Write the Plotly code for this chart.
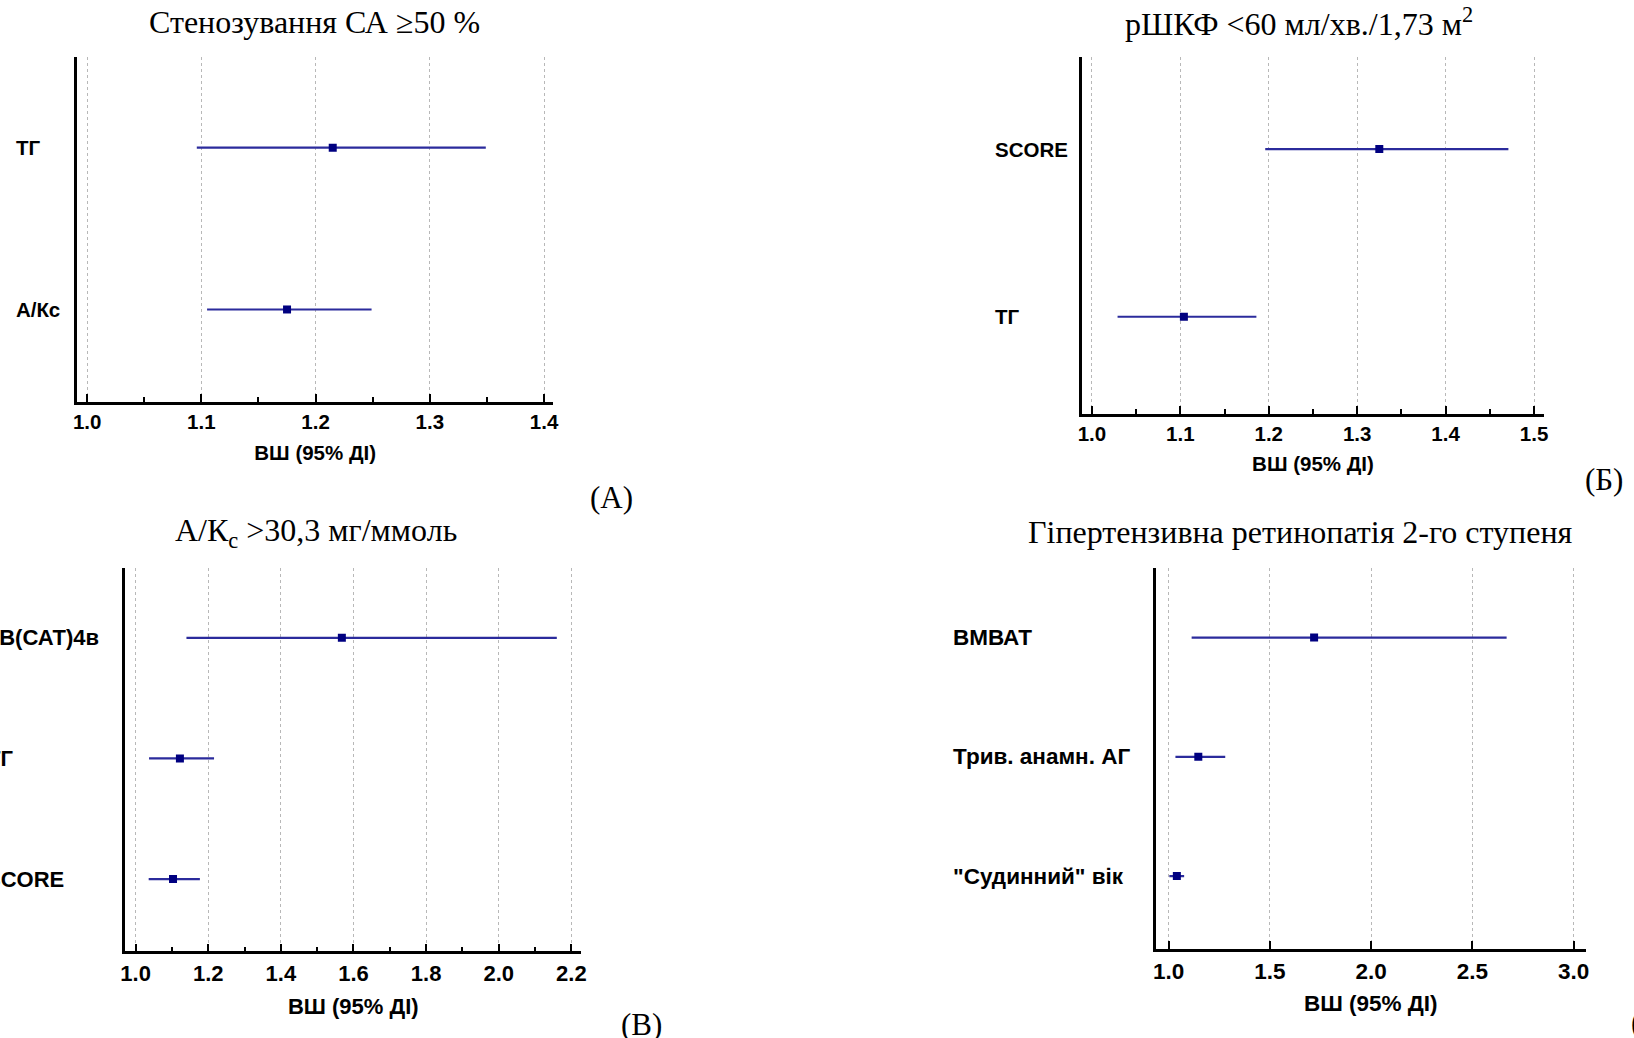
import plotly.graph_objects as go

W, H = 1634, 1038

# ---------------- data ----------------
a_labels = ["ТГ", "А/Кс"]
a_or = [1.215, 1.175]
a_lo = [1.096, 1.105]
a_hi = [1.349, 1.249]

b_labels = ["SCORE", "ТГ"]
b_or = [1.325, 1.104]
b_lo = [1.196, 1.029]
b_hi = [1.471, 1.186]

c_labels = ["ВМВ(САТ)4в", "ТГ", "SCORE"]
c_or = [1.568, 1.122, 1.103]
c_lo = [1.140, 1.037, 1.036]
c_hi = [2.160, 1.216, 1.177]

d_labels = ["ВМВАТ", "Трив. анамн. АГ", "\"Судинний\" вік"]
d_or = [1.718, 1.146, 1.040]
d_lo = [1.113, 1.033, 1.003]
d_hi = [2.669, 1.279, 1.076]

titles = [
    "Стенозування СА ≥50 %",
    "рШКФ &lt;60 мл/хв./1,73 м<sup>2</sup>",
    "А/К<sub>с</sub> &gt;30,3 мг/ммоль",
    "Гіпертензивна ретинопатія 2-го ступеня",
]
panel_tags = ["(А)", "(Б)", "(В)", "(Г)"]
x_title = "ВШ (95% ДІ)"

# ---------------- layout geometry (pixels) ----------------
panels = [
    dict(labels=a_labels, orv=a_or, lo=a_lo, hi=a_hi,
         px_x=(72.7, 551.9), px_y=(57.3, 402.0), xr=(0.9913, 1.408),
         dtick=0.1, minor=0.05, pad=(0.559, 0.572), fs=20.5, standoff=14,
         label_x=[9, 9], title_xy=(312, 22), tag_xy=(611, 497), tag_anchor="center"),
    dict(labels=b_labels, orv=b_or, lo=b_lo, hi=b_hi,
         px_x=(1084.5, 1549.2), px_y=(57.3, 413.7), xr=(0.989, 1.511),
         dtick=0.1, minor=0.05, pad=(0.547, 0.578), fs=20.5, standoff=13,
         label_x=[994.5, 994.5], title_xy=(1303, 22), tag_xy=(1610, 479), tag_anchor="center"),
    dict(labels=c_labels, orv=c_or, lo=c_lo, hi=c_hi,
         px_x=(120.9, 580.4), px_y=(568.0, 951.4), xr=(0.971, 2.228),
         dtick=0.2, minor=0.1, pad=(0.579, 0.60), fs=22, standoff=15,
         label_x=[-42, -20.1, -21.2], title_xy=(313.5, 532), tag_xy=(641, 1024), tag_anchor="center"),
    dict(labels=d_labels, orv=d_or, lo=d_lo, hi=d_hi,
         px_x=(1158.8, 1591.3), px_y=(568.0, 949.0), xr=(0.937, 3.059),
         dtick=0.5, minor=None, pad=(0.584, 0.612), fs=22.5, standoff=13,
         label_x=[952.5, 952.5, 952.5], title_xy=(1304, 532), tag_xy=(1635.5, 1022), tag_anchor="left"),
]

LINE = "#2b2b9c"
MARK = "#000080"
SANS = "Liberation Sans, Arial, sans-serif"
SERIF = "Liberation Serif, Times New Roman, serif"

fig = go.Figure()
annotations = []
layout = {}

for i, p in enumerate(panels, start=1):
    xa = "x" if i == 1 else f"x{i}"
    ya = "y" if i == 1 else f"y{i}"
    xkey = "xaxis" if i == 1 else f"xaxis{i}"
    ykey = "yaxis" if i == 1 else f"yaxis{i}"

    plus = [h - o for h, o in zip(p["hi"], p["orv"])]
    minus = [o - l for o, l in zip(p["orv"], p["lo"])]

    fig.add_trace(go.Scatter(
        x=p["orv"], y=p["labels"], mode="markers",
        marker=dict(symbol="square", size=8, color=MARK),
        error_x=dict(type="data", symmetric=False, array=plus, arrayminus=minus,
                     color=LINE, thickness=2.2, width=0),
        xaxis=xa, yaxis=ya, showlegend=False, hoverinfo="skip",
    ))

    x0, x1 = p["px_x"]
    y0, y1 = p["px_y"]
    n = len(p["labels"])
    fs = p["fs"]
    minor = dict(ticks="inside", ticklen=5, tickwidth=1.5, tickcolor="black",
                 dtick=p["minor"], tick0=1.0, showgrid=False) if p["minor"] else dict(ticks="")
    layout[xkey] = dict(
        domain=[x0 / W, x1 / W], anchor=ya, range=list(p["xr"]),
        tick0=1.0, dtick=p["dtick"], tickformat=".1f",
        ticks="inside", ticklen=8, tickwidth=1.5, tickcolor="black",
        showline=True, linewidth=2.5, linecolor="black",
        showgrid=True, gridcolor="#b8b8b8", gridwidth=1, griddash="dot",
        zeroline=False, minor=minor,
        tickfont=dict(family=SANS, size=fs, color="black", weight="bold"),
        title=dict(text=x_title, standoff=p["standoff"],
                   font=dict(family=SANS, size=fs, color="black", weight="bold")),
    )
    layout[ykey] = dict(
        domain=[1 - y1 / H, 1 - y0 / H], anchor=xa, type="category",
        range=[n - 1 + p["pad"][1], -p["pad"][0]],
        showline=True, linewidth=2.5, linecolor="black",
        showgrid=False, zeroline=False, showticklabels=False, ticks="",
    )

    for lab, lx in zip(p["labels"], p["label_x"]):
        annotations.append(dict(
            x=lx / W, xref="paper", xanchor="left", y=lab, yref=ya, yanchor="middle",
            text=lab, showarrow=False,
            font=dict(family=SANS, size=fs, color="black", weight="bold"),
        ))

    tx, ty = p["title_xy"]
    annotations.append(dict(
        x=tx / W, y=1 - ty / H, xref="paper", yref="paper", xanchor="center", yanchor="middle",
        text=titles[i - 1], showarrow=False,
        font=dict(family=SERIF, size=32, color="black"),
    ))
    gx, gy = p["tag_xy"]
    annotations.append(dict(
        x=gx / W, y=1 - gy / H, xref="paper", yref="paper", xanchor=p["tag_anchor"], yanchor="middle",
        text=panel_tags[i - 1], showarrow=False,
        font=dict(family=SERIF, size=31, color="black"),
    ))

fig.update_layout(
    width=W, height=H, margin=dict(l=0, r=0, t=0, b=0),
    paper_bgcolor="white", plot_bgcolor="white",
    annotations=annotations, **layout,
)

fig.write_html("out.html")
